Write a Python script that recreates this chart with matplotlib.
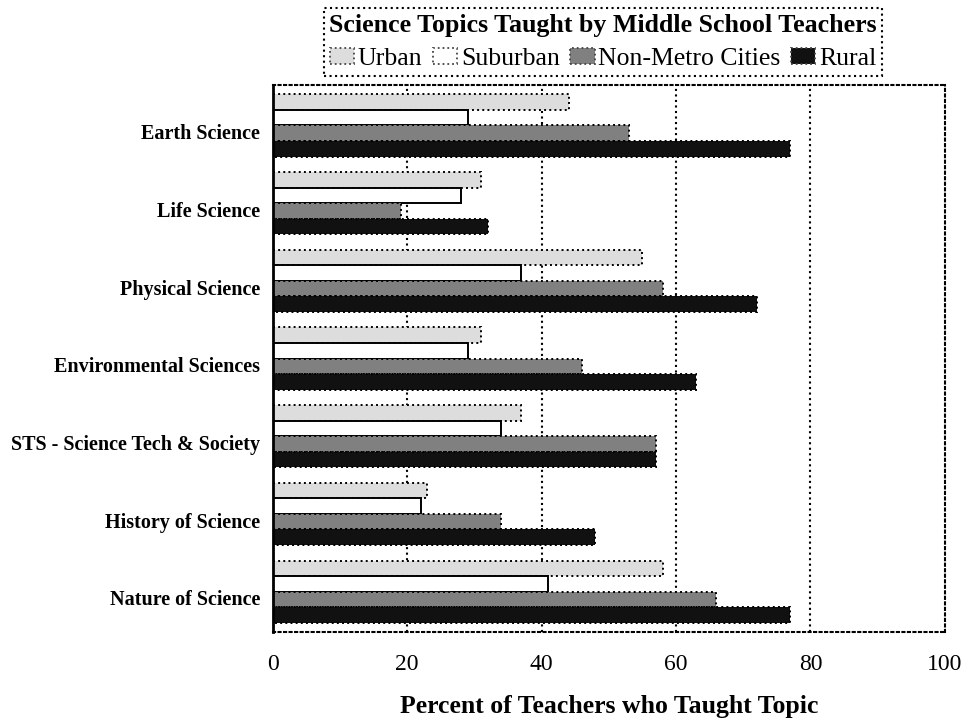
import numpy as np
import matplotlib.pyplot as plt
from matplotlib.patches import Patch

topics = ['Earth Science', 'Life Science', 'Physical Science', 'Environmental Sciences',
          'STS - Science Tech & Society', 'History of Science', 'Nature of Science']
groups = ['Urban', 'Suburban', 'Non-Metro Cities', 'Rural']
urban = [44, 31, 55, 31, 37, 23, 58]
suburban = [29, 28, 37, 29, 34, 22, 41]
nonmetro = [53, 19, 58, 46, 57, 34, 66]
rural = [77, 32, 72, 63, 57, 48, 77]
xticks = [0, 20, 40, 60, 80, 100]

colors = ['#dddddd', '#ffffff', '#808080', '#111111']
serif = ['Liberation Serif', 'DejaVu Serif']

fig = plt.figure(figsize=(9.71, 7.21), dpi=100)
ax = fig.add_axes([0.281, 0.1234, 0.692, 0.7586])

y = np.arange(len(topics))
h = 0.2
for k, (vals, c) in enumerate(zip([urban, suburban, nonmetro, rural], colors)):
    ls = '-' if k == 1 else ':'
    ax.barh(y + (k - 1.5) * h, vals, height=h, color=c, edgecolor='black',
            linewidth=1.4, linestyle=ls, zorder=3)

ax.set_xlim(0, 100)
ax.set_ylim(len(topics) - 0.48, -0.52)
ax.set_xticks(xticks)
ax.set_xticklabels([str(t) for t in xticks], family=serif, fontsize=17)
ax.set_yticks(y + 0.08)
ax.set_yticklabels(topics, family=serif, fontsize=14.5, fontweight='bold')
ax.tick_params(axis='both', length=0)
ax.tick_params(axis='x', pad=16)
ax.tick_params(axis='y', pad=9)

for g in [20, 40, 60, 80]:
    ax.axvline(g, color='black', linestyle=':', linewidth=1.5, zorder=1)

for side in ['top', 'right', 'bottom']:
    ax.spines[side].set_linestyle(':')
    ax.spines[side].set_linewidth(1.5)
ax.spines['left'].set_linewidth(2)
ax.spines['left'].set_zorder(5)

ax.set_xlabel('Percent of Teachers who Taught Topic', family=serif, fontsize=18.5,
              fontweight='bold', labelpad=14)

handles = [Patch(facecolor=c, edgecolor='#444444', linestyle=':', linewidth=1.3) for c in colors]
leg = fig.legend(handles, groups, loc='upper center', bbox_to_anchor=(0.621, 0.989), ncol=4,
                 title='Science Topics Taught by Middle School Teachers',
                 prop={'family': serif, 'size': 18.5}, fancybox=False, framealpha=1,
                 edgecolor='black', handlelength=0.95, handleheight=0.55, handletextpad=0.15,
                 columnspacing=0.4, borderpad=0.22, labelspacing=0.45, borderaxespad=0)
leg.get_title().set_fontfamily(serif)
leg.get_title().set_fontsize(18.6)
leg.get_title().set_fontweight('bold')
leg.get_frame().set_linestyle(':')
leg.get_frame().set_linewidth(1.5)

fig.savefig('out.png', dpi=100)
